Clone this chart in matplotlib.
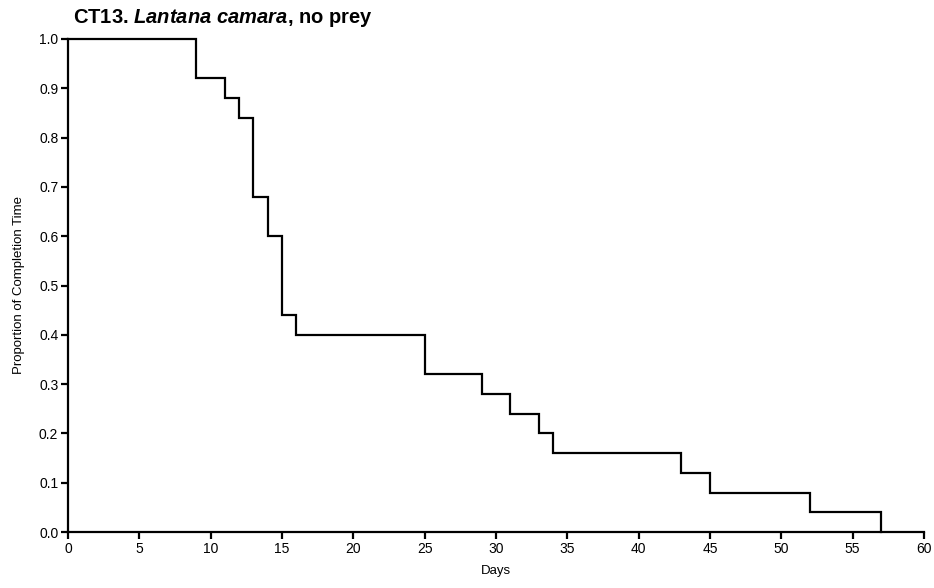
import matplotlib
matplotlib.use("Agg")
import matplotlib.pyplot as plt

plt.rcParams['font.family'] = ['Liberation Sans', 'DejaVu Sans']
plt.rcParams['mathtext.fontset'] = 'custom'
plt.rcParams['mathtext.it'] = 'Liberation Sans:italic:bold'
plt.rcParams['mathtext.rm'] = 'Liberation Sans:bold'

# survival-style step data
days = [0, 9, 11, 12, 13, 14, 15, 16, 25, 29, 31, 33, 34, 43, 45, 52, 57]
proportion = [1.00, 0.92, 0.88, 0.84, 0.68, 0.60, 0.44, 0.40, 0.32,
              0.28, 0.24, 0.20, 0.16, 0.12, 0.08, 0.04, 0.00]
x_ticks = list(range(0, 61, 5))
y_ticks = [i / 10 for i in range(11)]

fig = plt.figure(figsize=(9.34, 5.88), dpi=100)
ax = fig.add_axes([68 / 934, 56 / 588, 856 / 934, 493 / 588])

ax.step(days, proportion, where='post', color='black', lw=1.6,
        solid_joinstyle='miter', clip_on=False)

ax.set_xlim(0, 60)
ax.set_ylim(0, 1.0)
ax.set_xticks(x_ticks)
ax.set_yticks(y_ticks)
ax.set_yticklabels([f"{v:.1f}" for v in y_ticks])

for side in ('top', 'right'):
    ax.spines[side].set_visible(False)
for side in ('left', 'bottom'):
    ax.spines[side].set_linewidth(1.6)
ax.tick_params(width=1.6, length=5, labelsize=10, pad=2)

ax.set_xlabel("Days", fontsize=9.5, labelpad=7)
ax.set_ylabel("Proportion of Completion Time", fontsize=9.5, labelpad=10)

fig.text(73 / 934, 1 - 18 / 588, r"CT13. $Lantana\ camara$, no prey",
         fontsize=14.5, fontweight='bold', va='center', ha='left')

fig.savefig("out.png", dpi=100)
